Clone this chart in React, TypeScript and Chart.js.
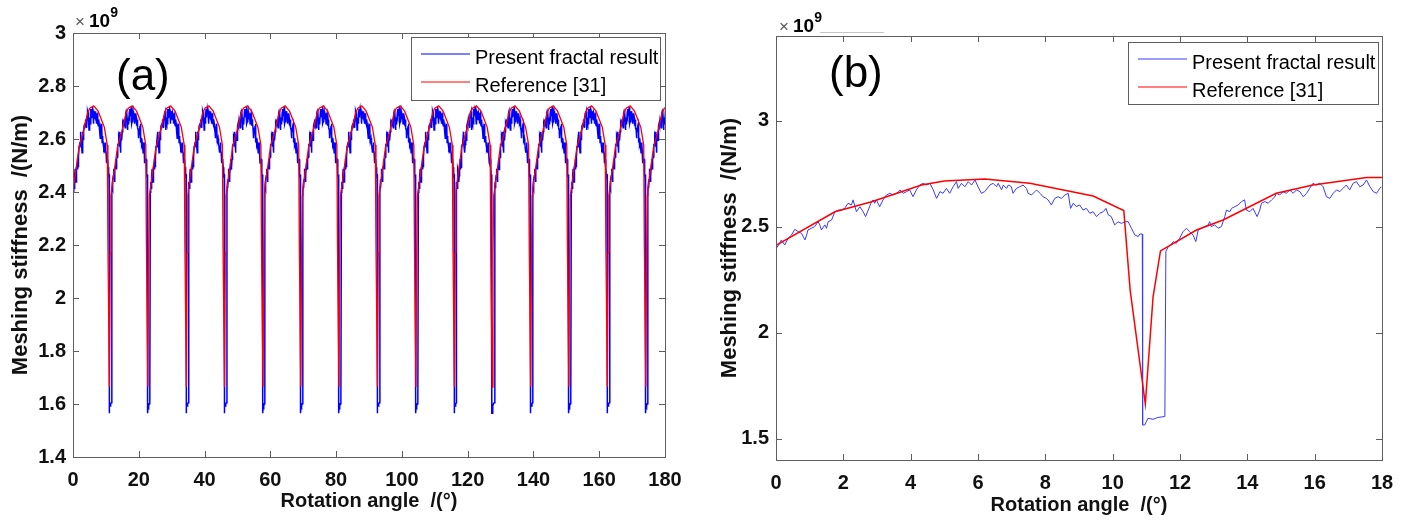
import React, { useEffect, useRef } from "react";
import { Chart, registerables } from "chart.js";

Chart.register(...registerables);

const FONT = "'Liberation Sans', Arial, Helvetica, sans-serif";
Chart.defaults.font.family = FONT;

// ---------------- DATA (stiffness in units of 1e9 N/m, angle in degrees) ----------------
// Panel (b): present fractal result
const FRACTAL_ANGLE_B = [
  0.01, 0.11, 0.16, 0.26, 0.36, 0.46, 0.56, 0.66, 0.76, 0.86,
  0.91, 0.95, 1.05, 1.15, 1.25, 1.30, 1.35, 1.45, 1.50, 1.55,
  1.65, 1.75, 1.85, 1.94, 2.04, 2.14, 2.24, 2.29, 2.39, 2.49,
  2.59, 2.66, 2.74, 2.84, 2.89, 2.93, 2.98, 3.08, 3.18, 3.28,
  3.38, 3.48, 3.58, 3.68, 3.78, 3.88, 3.97, 4.07, 4.17, 4.27,
  4.37, 4.47, 4.57, 4.67, 4.77, 4.87, 4.96, 5.06, 5.16, 5.26,
  5.36, 5.41, 5.51, 5.61, 5.71, 5.81, 5.91, 6.00, 6.10, 6.20,
  6.35, 6.45, 6.55, 6.60, 6.70, 6.75, 6.85, 6.90, 6.99, 7.04,
  7.14, 7.24, 7.34, 7.44, 7.49, 7.59, 7.69, 7.74, 7.84, 7.93,
  8.03, 8.08, 8.18, 8.28, 8.38, 8.48, 8.58, 8.68, 8.75, 8.83,
  8.92, 9.02, 9.12, 9.22, 9.32, 9.42, 9.52, 9.62, 9.72, 9.80,
  9.87, 9.96, 10.06, 10.16, 10.26, 10.36, 10.46, 10.56, 10.66, 10.76,
  10.81, 10.88,
  10.89, 10.95, 11.05, 11.20, 11.35, 11.55,
  11.58, 11.65, 11.72, 11.80, 11.89, 11.99, 12.09, 12.19, 12.29, 12.39,
  12.47, 12.54, 12.64, 12.74, 12.84, 12.88, 12.93, 13.03, 13.13, 13.23,
  13.33, 13.38, 13.48, 13.53, 13.63, 13.73, 13.83, 13.92, 13.97, 14.07,
  14.17, 14.29, 14.37, 14.42, 14.52, 14.62, 14.72, 14.82, 14.86, 14.96,
  15.06, 15.16, 15.26, 15.36, 15.46, 15.56, 15.66, 15.76, 15.85, 15.95,
  16.05, 16.15, 16.25, 16.35, 16.45, 16.55, 16.65, 16.75, 16.84, 16.94,
  17.04, 17.14, 17.24, 17.34, 17.44, 17.54, 17.64, 17.74, 17.84, 17.93,
  17.98,
];
const FRACTAL_STIFF_B = [
  2.399, 2.422, 2.438, 2.414, 2.446, 2.461, 2.488, 2.477, 2.469, 2.438,
  2.461, 2.485, 2.493, 2.501, 2.524, 2.509, 2.485, 2.509, 2.493, 2.524,
  2.532, 2.571, 2.579, 2.579, 2.587, 2.611, 2.603, 2.627, 2.571, 2.595,
  2.571, 2.548, 2.579, 2.619, 2.627, 2.611, 2.627, 2.595, 2.627, 2.650,
  2.658, 2.650, 2.658, 2.674, 2.658, 2.666, 2.674, 2.642, 2.674, 2.697,
  2.705, 2.697, 2.705, 2.674, 2.634, 2.666, 2.658, 2.681, 2.658, 2.689,
  2.713, 2.681, 2.705, 2.689, 2.713, 2.697, 2.721, 2.689, 2.658, 2.666,
  2.697, 2.705, 2.689, 2.705, 2.674, 2.697, 2.681, 2.697, 2.689, 2.658,
  2.681, 2.689, 2.697, 2.681, 2.658, 2.650, 2.666, 2.674, 2.658, 2.642,
  2.634, 2.627, 2.603, 2.634, 2.642, 2.634, 2.650, 2.658, 2.587, 2.611,
  2.595, 2.603, 2.579, 2.587, 2.564, 2.571, 2.548, 2.564, 2.571, 2.587,
  2.556, 2.548, 2.509, 2.524, 2.516, 2.524, 2.524, 2.493, 2.461, 2.454,
  2.466, 2.466,
  1.565, 1.565, 1.597, 1.592, 1.601, 1.605,
  2.383, 2.406, 2.414, 2.430, 2.422, 2.446, 2.477, 2.493, 2.477, 2.461,
  2.430, 2.485, 2.493, 2.501, 2.509, 2.524, 2.501, 2.509, 2.493, 2.501,
  2.548, 2.579, 2.571, 2.587, 2.595, 2.603, 2.619, 2.627, 2.579, 2.571,
  2.587, 2.548, 2.579, 2.611, 2.619, 2.611, 2.627, 2.642, 2.658, 2.650,
  2.666, 2.658, 2.674, 2.658, 2.674, 2.666, 2.642, 2.658, 2.681, 2.705,
  2.697, 2.705, 2.689, 2.642, 2.634, 2.658, 2.674, 2.666, 2.681, 2.697,
  2.674, 2.705, 2.713, 2.689, 2.697, 2.721, 2.689, 2.666, 2.658, 2.681,
  2.689,
];
// Panel (b): reference [31]
const REF_ANGLE_B = [0, 1.75, 2.84, 4.32, 5.0, 6.2, 7.54, 9.42, 10.33, 10.52, 10.97, 11.2, 11.42, 12.49, 13.28, 14.86, 15.95, 17.54, 18];
const REF_STIFF_B = [2.412, 2.571, 2.618, 2.697, 2.716, 2.725, 2.705, 2.645, 2.577, 2.2, 1.664, 2.17, 2.386, 2.485, 2.532, 2.658, 2.697, 2.732, 2.732];

// Panel (a): angles at which each mesh cycle starts (stiffness rises back after a dip)
const TOOTH_START_A = [0.1, 11.8, 23.5, 35.1, 46.8, 58.3, 69.9, 81.6, 93.3, 105.0, 116.5, 128.2, 139.8, 151.5, 163.2, 174.8];
const CYCLE_END_FRACTAL = 11.56;
const CYCLE_END_REF = 11.42;

// Ticks
const X_TICKS_A = [0, 20, 40, 60, 80, 100, 120, 140, 160, 180];
const Y_TICKS_A = [1.4, 1.6, 1.8, 2, 2.2, 2.4, 2.6, 2.8, 3];
const X_TICKS_B = [0, 2, 4, 6, 8, 10, 12, 14, 16, 18];
const Y_TICKS_B = [1.5, 2, 2.5, 3];

const LEGEND_LABELS = ["Present fractal result", "Reference [31]"];
const X_TITLE = "Rotation angle  /(\u00B0)";
const Y_TITLE = "Meshing stiffness  /(N/m)";

// ---------------- helpers ----------------
type P = { x: number; y: number };
const toPoints = (xs: number[], ys: number[]): P[] =>
  xs.slice(0, Math.min(xs.length, ys.length)).map((x, i) => ({ x, y: ys[i] }));
const tileCycles = (xs: number[], ys: number[], end: number): P[] => {
  const cyc = toPoints(xs, ys).filter((p) => p.x <= end);
  return TOOTH_START_A.flatMap((s) => cyc.map((p) => ({ x: s + p.x, y: p.y })));
};

const fmt = (v: any) => String(Math.round(Number(v) * 100) / 100);

type Deco = {
  panel: string;
  panelX: number;
  panelBase: number;
  legend: { x: number; y: number; w: number; h: number };
  expoX: number;
  expoBase: number;
  underline?: { x1: number; x2: number; y: number };
  colors: string[];
};

function decoPlugin(d: Deco) {
  return {
    id: "deco",
    afterDatasetsDraw(chart: any) {
      const { ctx, chartArea: a } = chart;
      const xs = chart.scales.x;
      const ys = chart.scales.y;
      ctx.save();
      // frame
      ctx.strokeStyle = "#5e5e5e";
      ctx.lineWidth = 1;
      ctx.strokeRect(Math.round(a.left) + 0.5, Math.round(a.top) + 0.5, Math.round(a.right - a.left), Math.round(a.bottom - a.top));
      // inward ticks on all four sides
      const TL = 6;
      ctx.beginPath();
      for (const t of xs.ticks) {
        const px = Math.round(xs.getPixelForValue(t.value)) + 0.5;
        ctx.moveTo(px, a.bottom);
        ctx.lineTo(px, a.bottom - TL);
        ctx.moveTo(px, a.top);
        ctx.lineTo(px, a.top + TL);
      }
      for (const t of ys.ticks) {
        const py = Math.round(ys.getPixelForValue(t.value)) + 0.5;
        ctx.moveTo(a.left, py);
        ctx.lineTo(a.left + TL, py);
        ctx.moveTo(a.right, py);
        ctx.lineTo(a.right - TL, py);
      }
      ctx.stroke();

      // legend
      const L = d.legend;
      ctx.fillStyle = "#ffffff";
      ctx.fillRect(L.x, L.y, L.w, L.h);
      ctx.strokeStyle = "#5e5e5e";
      ctx.strokeRect(L.x + 0.5, L.y + 0.5, L.w, L.h);
      const rowLine = [17, 45];
      const rowBase = [26.5, 54.5];
      LEGEND_LABELS.forEach((lab, i) => {
        ctx.strokeStyle = d.colors[i];
        ctx.lineWidth = 1;
        ctx.beginPath();
        ctx.moveTo(L.x + 10, L.y + rowLine[i]);
        ctx.lineTo(L.x + 59, L.y + rowLine[i]);
        ctx.stroke();
        ctx.fillStyle = "#000";
        ctx.font = `20px ${FONT}`;
        ctx.textAlign = "left";
        ctx.textBaseline = "alphabetic";
        ctx.fillText(lab, L.x + 64, L.y + rowBase[i]);
      });

      // panel label
      ctx.fillStyle = "#000";
      ctx.font = `44px ${FONT}`;
      ctx.textAlign = "left";
      ctx.textBaseline = "alphabetic";
      ctx.fillText(d.panel, d.panelX, d.panelBase);

      // x10^9 exponent
      ctx.fillStyle = "#555";
      ctx.font = `17px ${FONT}`;
      ctx.fillText("\u00D7", d.expoX, d.expoBase);
      ctx.fillStyle = "#000";
      ctx.font = `bold 19px ${FONT}`;
      ctx.fillText("10", d.expoX + 14, d.expoBase);
      const w10 = ctx.measureText("10").width;
      ctx.font = `bold 14px ${FONT}`;
      ctx.fillText("9", d.expoX + 14 + w10, d.expoBase - 10);
      if (d.underline) {
        ctx.strokeStyle = "#c4c4c4";
        ctx.lineWidth = 1;
        ctx.beginPath();
        ctx.moveTo(d.underline.x1, d.underline.y + 0.5);
        ctx.lineTo(d.underline.x2, d.underline.y + 0.5);
        ctx.stroke();
      }
      ctx.restore();
    },
  };
}

type PanelSpec = {
  width: number;
  blue: P[];
  red: P[];
  blueColor: string;
  blueWidth: number;
  redWidth: number;
  xMin: number;
  xMax: number;
  yMin: number;
  yMax: number;
  xTicks: number[];
  yTicks: number[];
  padTop: number;
  padRight: number;
  yAxisWidth: number;
  xAxisHeight: number;
  yTitlePad: number;
  xTitlePad: number;
  deco: Deco;
};

function makeConfig(s: PanelSpec): any {
  const tickFont = { family: FONT, size: 20, weight: "bold" as const };
  const yTitleFont = { family: FONT, size: 22, weight: "bold" as const };
  return {
    type: "line",
    data: {
      datasets: [
        {
          label: LEGEND_LABELS[0],
          data: s.blue,
          borderColor: s.blueColor,
          borderWidth: s.blueWidth,
          pointRadius: 0,
          tension: 0,
          order: 2,
          clip: 0,
        },
        {
          label: LEGEND_LABELS[1],
          data: s.red,
          borderColor: "#ff0000",
          borderWidth: s.redWidth,
          pointRadius: 0,
          tension: 0,
          order: 1,
          clip: 0,
        },
      ],
    },
    options: {
      animation: false,
      responsive: false,
      devicePixelRatio: 1,
      events: [],
      layout: { padding: { top: s.padTop, right: s.padRight, bottom: 0, left: 0 } },
      plugins: { legend: { display: false }, tooltip: { enabled: false } },
      scales: {
        x: {
          type: "linear",
          min: s.xMin,
          max: s.xMax,
          grid: { display: false, drawTicks: false },
          border: { display: false },
          ticks: { autoSkip: false, maxRotation: 0, padding: 11, color: "#111", font: tickFont, callback: fmt },
          afterBuildTicks: (sc: any) => {
            sc.ticks = s.xTicks.map((value) => ({ value }));
          },
          afterFit: (sc: any) => {
            sc.height = s.xAxisHeight;
          },
          title: {
            display: true,
            text: X_TITLE,
            color: "#111",
            font: tickFont,
            padding: { top: 0, bottom: s.xTitlePad },
          },
        },
        y: {
          type: "linear",
          min: s.yMin,
          max: s.yMax,
          grid: { display: false, drawTicks: false },
          border: { display: false },
          ticks: { autoSkip: false, padding: 7, color: "#111", font: tickFont, callback: fmt },
          afterBuildTicks: (sc: any) => {
            sc.ticks = s.yTicks.map((value) => ({ value }));
          },
          afterFit: (sc: any) => {
            sc.width = s.yAxisWidth;
          },
          title: {
            display: true,
            text: Y_TITLE,
            color: "#111",
            font: yTitleFont,
            padding: { top: s.yTitlePad, bottom: 0 },
          },
        },
      },
    },
    plugins: [decoPlugin(s.deco)],
  };
}

function Panel({ left, spec }: { left: number; spec: PanelSpec }) {
  const ref = useRef<HTMLCanvasElement>(null);
  useEffect(() => {
    const chart = new Chart(ref.current as HTMLCanvasElement, makeConfig(spec));
    return () => chart.destroy();
  }, []);
  return (
    <canvas
      ref={ref}
      width={spec.width}
      height={522}
      style={{ position: "absolute", left, top: 0, width: spec.width, height: 522 }}
    />
  );
}

const SPEC_A: PanelSpec = {
  width: 700,
  blue: tileCycles(FRACTAL_ANGLE_B, FRACTAL_STIFF_B, CYCLE_END_FRACTAL),
  red: tileCycles(REF_ANGLE_B, REF_STIFF_B, CYCLE_END_REF),
  blueColor: "#0000ff",
  blueWidth: 1.5,
  redWidth: 1.3,
  xMin: 0,
  xMax: 180,
  yMin: 1.4,
  yMax: 3,
  xTicks: X_TICKS_A,
  yTicks: Y_TICKS_A,
  padTop: 33,
  padRight: 35,
  yAxisWidth: 73,
  xAxisHeight: 65,
  yTitlePad: 8.2,
  xTitlePad: 8.3,
  deco: {
    panel: "(a)",
    panelX: 116,
    panelBase: 90,
    legend: { x: 411, y: 37, w: 249, h: 63 },
    expoX: 75,
    expoBase: 27,
    colors: ["#0000ff", "#ff0000"],
  },
};

const SPEC_B: PanelSpec = {
  width: 710,
  blue: toPoints(FRACTAL_ANGLE_B, FRACTAL_STIFF_B),
  red: toPoints(REF_ANGLE_B, REF_STIFF_B),
  blueColor: "#3a3aff",
  blueWidth: 1,
  redWidth: 1.5,
  xMin: 0,
  xMax: 18,
  yMin: 1.4,
  yMax: 3.4,
  xTicks: X_TICKS_B,
  yTicks: Y_TICKS_B,
  padTop: 36,
  padRight: 28,
  yAxisWidth: 76,
  xAxisHeight: 62,
  yTitlePad: 16.3,
  xTitlePad: 5,
  deco: {
    panel: "(b)",
    panelX: 129,
    panelBase: 87,
    legend: { x: 428, y: 42, w: 250, h: 62 },
    expoX: 79,
    expoBase: 31.5,
    underline: { x1: 120, x2: 184, y: 32 },
    colors: ["#3a3aff", "#ff0000"],
  },
};

export default function App() {
  return (
    <div style={{ position: "absolute", left: 0, top: 0, width: 1410, height: 522, background: "#fff" }}>
      <Panel left={0} spec={SPEC_A} />
      <Panel left={700} spec={SPEC_B} />
    </div>
  );
}
